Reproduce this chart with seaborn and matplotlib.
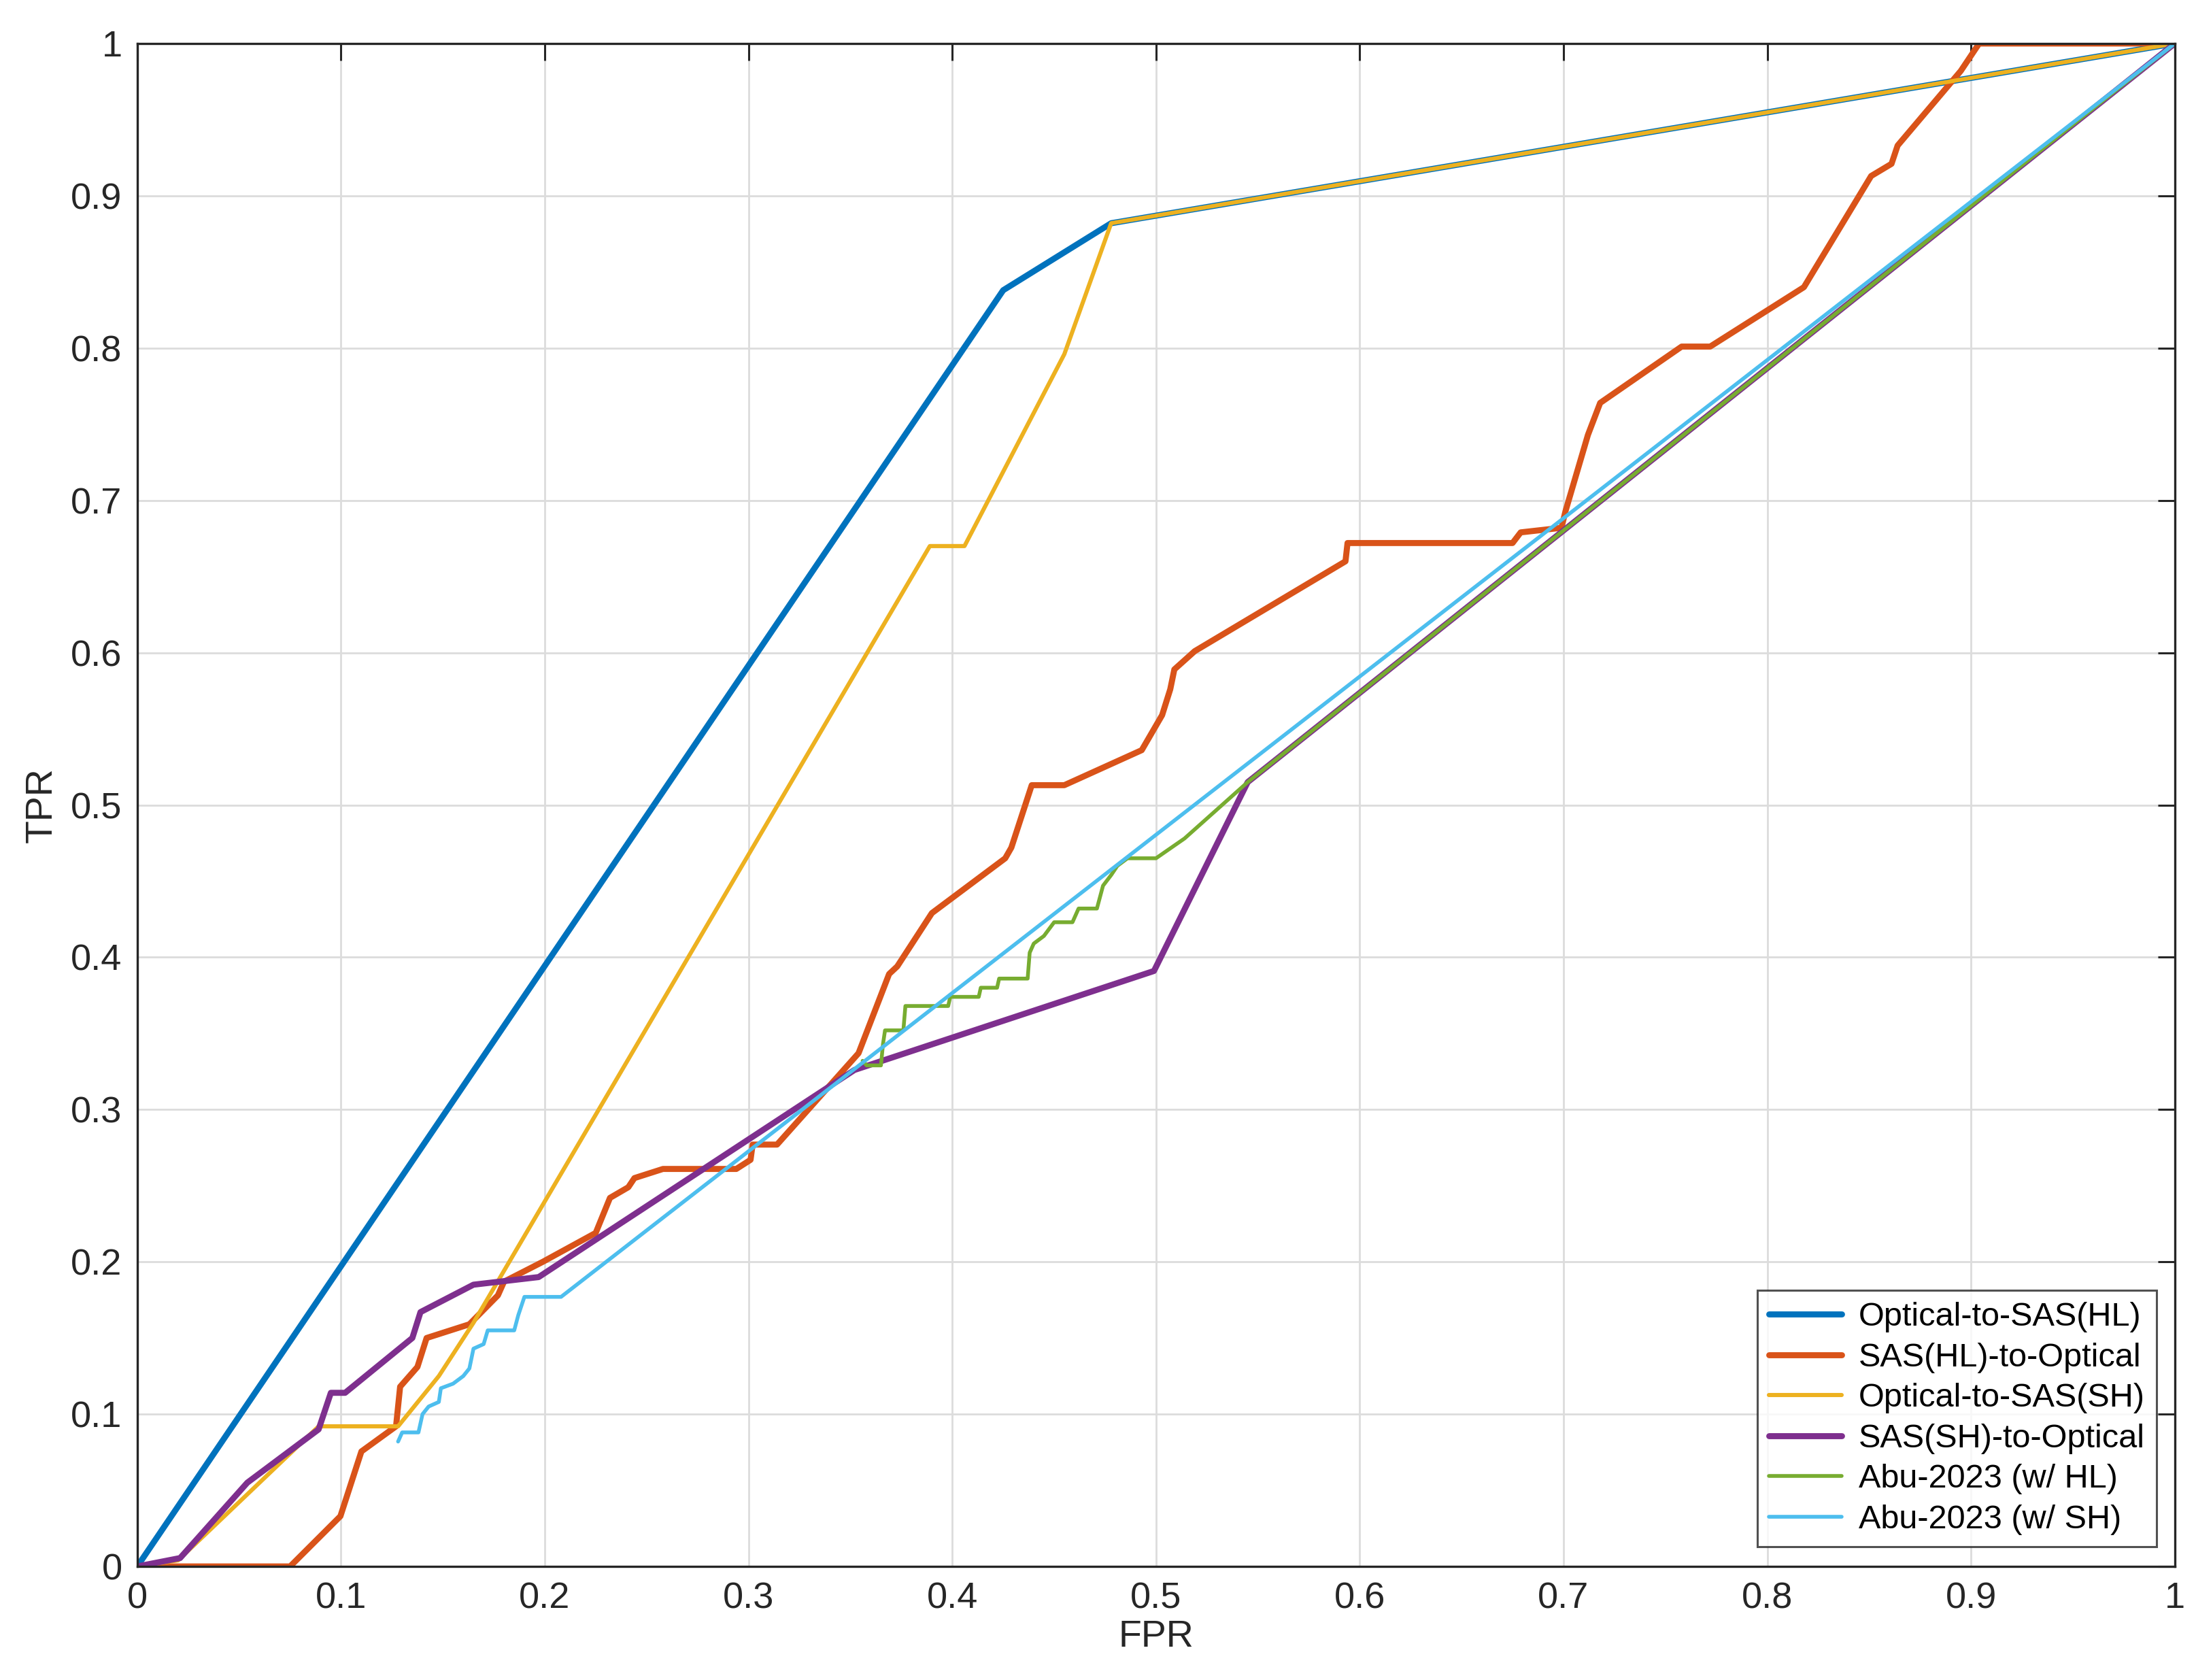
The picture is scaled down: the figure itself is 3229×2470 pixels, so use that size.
import numpy as np
import pandas as pd
import matplotlib
matplotlib.use("Agg")
import matplotlib.pyplot as plt
import seaborn as sns
from matplotlib.ticker import FuncFormatter

sns.set_theme(style="white")
plt.rcParams['font.family'] = ['Liberation Sans', 'DejaVu Sans']

# ROC curves
hl_opt_fpr = [0, 0.425, 0.478, 1.0]
hl_opt_tpr = [0, 0.838, 0.882, 1.0]

hl_sas_fpr = [0, 0.075, 0.0997, 0.110, 0.127, 0.129, 0.1375, 0.142, 0.163, 0.177, 0.180,
              0.199, 0.225, 0.232, 0.241, 0.244, 0.258, 0.294, 0.301, 0.302, 0.314,
              0.354, 0.369, 0.373, 0.390, 0.426, 0.429, 0.439, 0.455, 0.493, 0.503,
              0.507, 0.509, 0.519, 0.593, 0.594, 0.675, 0.679, 0.699, 0.701, 0.712,
              0.718, 0.758, 0.772, 0.818, 0.851, 0.861, 0.864, 0.895, 0.904, 1.0]
hl_sas_tpr = [0, 0, 0.033, 0.0755, 0.092, 0.118, 0.131, 0.150, 0.159, 0.178, 0.187,
              0.200, 0.219, 0.242, 0.249, 0.255, 0.261, 0.261, 0.267, 0.277, 0.277,
              0.337, 0.389, 0.394, 0.429, 0.465, 0.472, 0.513, 0.513, 0.536, 0.559,
              0.576, 0.589, 0.601, 0.660, 0.672, 0.672, 0.679, 0.682, 0.693, 0.743,
              0.764, 0.801, 0.801, 0.840, 0.913, 0.921, 0.933, 0.982, 1.0, 1.0]

sh_opt_fpr = [0, 0.02, 0.089, 0.128, 0.148, 0.165, 0.389, 0.406, 0.455, 0.478, 1.0]
sh_opt_tpr = [0, 0.004, 0.092, 0.092, 0.125, 0.160, 0.670, 0.670, 0.796, 0.882, 1.0]

sh_sas_fpr = [0, 0.021, 0.054, 0.089, 0.095, 0.102, 0.135, 0.139, 0.165, 0.197, 0.352, 0.499, 0.545, 1.0]
sh_sas_tpr = [0, 0.0055, 0.055, 0.090, 0.114, 0.114, 0.150, 0.167, 0.185, 0.190, 0.326, 0.391, 0.515, 1.0]

abu_hl_fpr = [0.356, 0.358, 0.365, 0.366, 0.367, 0.376, 0.377, 0.398, 0.399, 0.413, 0.414,
              0.422, 0.423, 0.437, 0.438, 0.440, 0.445, 0.450, 0.459, 0.462, 0.471,
              0.474, 0.478, 0.481, 0.486, 0.500, 0.514, 0.545, 1.0]
abu_hl_tpr = [0.332, 0.329, 0.329, 0.343, 0.352, 0.352, 0.368, 0.368, 0.374, 0.374, 0.380,
              0.380, 0.386, 0.386, 0.403, 0.409, 0.414, 0.423, 0.423, 0.432, 0.432,
              0.447, 0.454, 0.460, 0.465, 0.465, 0.478, 0.515, 1.0]

abu_sh_fpr = [0.128, 0.130, 0.138, 0.140, 0.143, 0.148, 0.149, 0.155, 0.160, 0.163, 0.165,
              0.170, 0.172, 0.185, 0.187, 0.190, 0.208, 1.0]
abu_sh_tpr = [0.082, 0.088, 0.088, 0.100, 0.105, 0.108, 0.117, 0.120, 0.125, 0.130, 0.143,
              0.146, 0.155, 0.155, 0.165, 0.177, 0.177, 1.0]

labels = ["Optical-to-SAS(HL)", "SAS(HL)-to-Optical", "Optical-to-SAS(SH)",
          "SAS(SH)-to-Optical", "Abu-2023 (w/ HL)", "Abu-2023 (w/ SH)"]
fprs = [hl_opt_fpr, hl_sas_fpr, sh_opt_fpr, sh_sas_fpr, abu_hl_fpr, abu_sh_fpr]
tprs = [hl_opt_tpr, hl_sas_tpr, sh_opt_tpr, sh_sas_tpr, abu_hl_tpr, abu_sh_tpr]
colors = ["#0072BD", "#D95319", "#EDB120", "#7E2F8E", "#77AC30", "#4DBEEE"]
widths = [3.2, 3.2, 2.2, 3.2, 2.0, 2.0]

fig = plt.figure(figsize=(16.15, 12.35), dpi=200)
ax = fig.add_axes([0.0625, 0.0676, 0.9275, 0.9065])

for fpr, tpr, lab, col, lw in zip(fprs, tprs, labels, colors, widths):
    df = pd.DataFrame({"FPR": fpr, "TPR": tpr})
    sns.lineplot(data=df, x="FPR", y="TPR", sort=False, estimator=None,
                 color=col, linewidth=lw, label=lab, ax=ax)

ax.set_xlim(0, 1)
ax.set_ylim(0, 1)
ticks = np.round(np.arange(0, 1.01, 0.1), 1)
ax.set_xticks(ticks)
ax.set_yticks(ticks)
fmt = FuncFormatter(lambda v, p: "%g" % v)
ax.xaxis.set_major_formatter(fmt)
ax.yaxis.set_major_formatter(fmt)
ax.grid(True, color="#dcdcdc", linewidth=1.0)
ax.set_axisbelow(True)
for s in ax.spines.values():
    s.set_color("#262626")
    s.set_linewidth(1.2)
ax.tick_params(direction="in", top=True, right=True, length=9, width=1.1,
               colors="#262626", labelsize=19.5, pad=8)
ax.set_xlabel("FPR", fontsize=20, color="#262626", labelpad=2)
ax.set_ylabel("TPR", fontsize=20, color="#262626", labelpad=6)

leg = ax.legend(loc="lower right", bbox_to_anchor=(0.991, 0.013), borderaxespad=0,
                fontsize=17.5, frameon=True, fancybox=False, handlelength=2.2,
                labelspacing=0.3, borderpad=0.35, handletextpad=0.5)
leg.get_frame().set_edgecolor("#262626")
leg.get_frame().set_linewidth(1.1)
for t in leg.get_texts():
    t.set_color("black")

fig.savefig("out.png", dpi=200)
